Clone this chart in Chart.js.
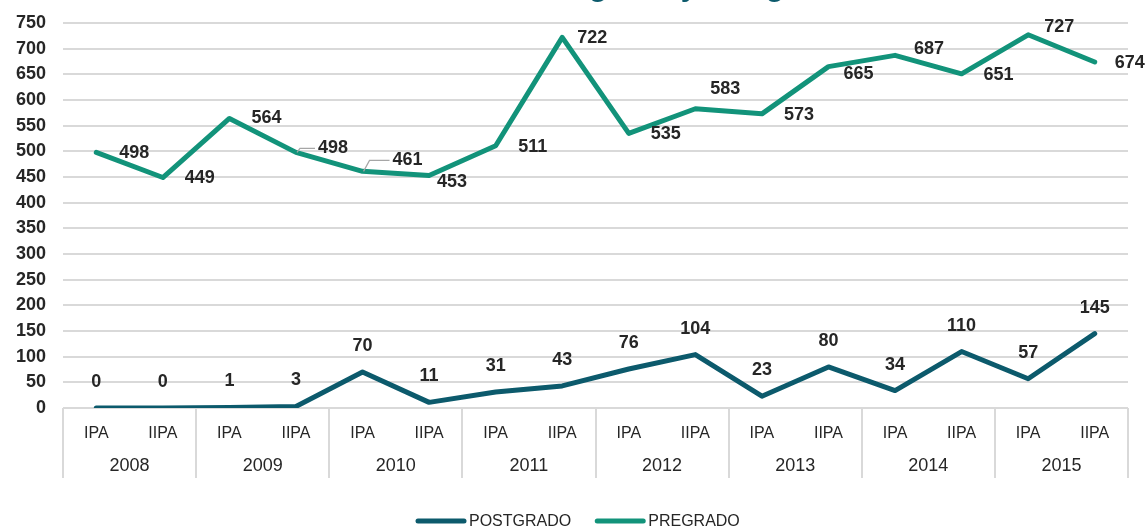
<!DOCTYPE html>
<html>
<head>
<meta charset="utf-8">
<script src="https://cdn.jsdelivr.net/npm/chart.js@4/dist/chart.umd.min.js"></script>
<style>
  html, body { margin: 0; padding: 0; background: #fff; }
  #wrap { width: 1146px; height: 529px; position: relative; }
</style>
</head>
<body>
<div id="wrap"><canvas id="c"></canvas></div>
<script>
var years = ['2008', '2009', '2010', '2011', '2012', '2013', '2014', '2015'];
var periods = ['IPA', 'IIPA'];
var postgrado = [0, 0, 1, 3, 70, 11, 31, 43, 76, 104, 23, 80, 34, 110, 57, 145];
var pregrado = [498, 449, 564, 498, 461, 453, 511, 722, 535, 583, 573, 665, 687, 651, 727, 674];
var yTicks = { min: 0, max: 750, step: 50 };
var titleText = 'Matriculados de grado y categoría';

//estilos
var POST_COLOR = '#0c5a6c', PRE_COLOR = '#12937a', GRID = '#d9d9d9', TEXT = '#262626';
var FONT = '"Liberation Sans", Arial, sans-serif';
//desplazamiento de etiquetas de pregrado (dx, dy) respecto al punto
var preNudge = [[38,1],[37,1],[37,0],[37,-4],[45,-11],[23,7],[37,1],[30,1],[37,1],[30,-20],[37,1],[30,7],[34,-6],[37,1],[31,-8],[35,1]];
var preLeader = [3, 4];

var labels = [];
years.forEach(function(y){
  periods.forEach(function(p){ labels.push(p); });
});

//etiquetas de datos
var dataLabels = {
  id: 'dataLabels',
  afterDatasetsDraw: function(chart){
    var ctx = chart.ctx;
    ctx.save();
    ctx.font = 'bold 18px ' + FONT;
    ctx.fillStyle = TEXT;
    ctx.textAlign = 'center';
    ctx.textBaseline = 'middle';

    var post = chart.getDatasetMeta(0).data;
    post.forEach(function(pt, i){
      ctx.fillText(String(postgrado[i]), pt.x, pt.y - 26);
    });

    var pre = chart.getDatasetMeta(1).data;
    pre.forEach(function(pt, i){
      var n = preNudge[i], lx = pt.x + n[0], ly = pt.y + n[1];
      if(preLeader.indexOf(i) >= 0){
        ctx.strokeStyle = '#a6a6a6';
        ctx.lineWidth = 1.2;
        ctx.beginPath();
        ctx.moveTo(pt.x + 1, pt.y);
        ctx.lineTo(pt.x + (i == 3 ? 4 : 7), ly);
        ctx.lineTo(lx - 18, ly);
        ctx.stroke();
      }
      ctx.fillText(String(pregrado[i]), lx, ly);
    });
    ctx.restore();
  }
};

//eje x de dos niveles, leyenda y titulo
var decor = {
  id: 'decor',
  afterDraw: function(chart){
    var ctx = chart.ctx, x = chart.scales.x, area = chart.chartArea,
      step = (area.right - area.left) / labels.length;
    ctx.save();
    ctx.strokeStyle = GRID;
    ctx.lineWidth = 2;
    for(var i = 0; i <= years.length; i++){
      var bx = Math.round(area.left + i * 2 * step);
      ctx.beginPath();
      ctx.moveTo(bx, area.bottom);
      ctx.lineTo(bx, area.bottom + 70);
      ctx.stroke();
    }
    ctx.font = '18px ' + FONT;
    ctx.fillStyle = TEXT;
    ctx.textAlign = 'center';
    ctx.textBaseline = 'middle';
    years.forEach(function(y, i){
      var cx = (x.getPixelForValue(i * 2) + x.getPixelForValue(i * 2 + 1)) / 2;
      ctx.fillText(y, cx, area.bottom + 58);
    });

    //leyenda
    var items = [['POSTGRADO', POST_COLOR], ['PREGRADO', PRE_COLOR]], ly = 521, lx = 418;
    ctx.font = '16px ' + FONT;
    ctx.textAlign = 'left';
    ctx.lineCap = 'round';
    items.forEach(function(it){
      ctx.strokeStyle = it[1];
      ctx.lineWidth = 5;
      ctx.beginPath();
      ctx.moveTo(lx, ly);
      ctx.lineTo(lx + 46, ly);
      ctx.stroke();
      ctx.fillStyle = TEXT;
      ctx.fillText(it[0], lx + 51, ly + 1);
      lx += 51 + ctx.measureText(it[0]).width + 26;
    });

    //titulo (cortado arriba)
    ctx.font = 'bold 30px ' + FONT;
    ctx.fillStyle = POST_COLOR;
    ctx.textBaseline = 'alphabetic';
    var pre = ctx.measureText('Matriculados de ').width;
    ctx.fillText(titleText, 589 - pre, -4);
    ctx.restore();
  }
};

var chart = new Chart(document.getElementById('c'), {
  type: 'line',
  data: {
    labels: labels,
    datasets: [
      { label: 'POSTGRADO', data: postgrado, borderColor: POST_COLOR, backgroundColor: POST_COLOR,
        borderWidth: 5, pointRadius: 0, tension: 0, borderCapStyle: 'round', borderJoinStyle: 'round' },
      { label: 'PREGRADO', data: pregrado, borderColor: PRE_COLOR, backgroundColor: PRE_COLOR,
        borderWidth: 5, pointRadius: 0, tension: 0, borderCapStyle: 'round', borderJoinStyle: 'round' }
    ]
  },
  options: {
    responsive: true,
    maintainAspectRatio: false,
    animation: false,
    layout: { padding: { top: 23, right: 18, left: 0, bottom: 0 } },
    plugins: {
      legend: { display: false },
      title: { display: false },
      tooltip: { enabled: false }
    },
    scales: {
      x: {
        offset: true,
        grid: { display: false, drawTicks: false },
        border: { display: false },
        ticks: { color: TEXT, font: { family: FONT, size: 16 }, padding: 16, maxRotation: 0, autoSkip: false },
        afterFit: function(s){ s.height = 121; }
      },
      y: {
        min: yTicks.min,
        max: yTicks.max,
        ticks: { stepSize: yTicks.step, color: TEXT, font: { family: FONT, size: 18, weight: 'bold' }, padding: 17 },
        grid: { color: GRID, lineWidth: 2, drawTicks: false },
        border: { display: false },
        afterFit: function(s){ s.width = 63; s.paddingTop = 0; s.paddingBottom = 0; }
      }
    }
  },
  plugins: [dataLabels, decor]
});
</script>
</body>
</html>
